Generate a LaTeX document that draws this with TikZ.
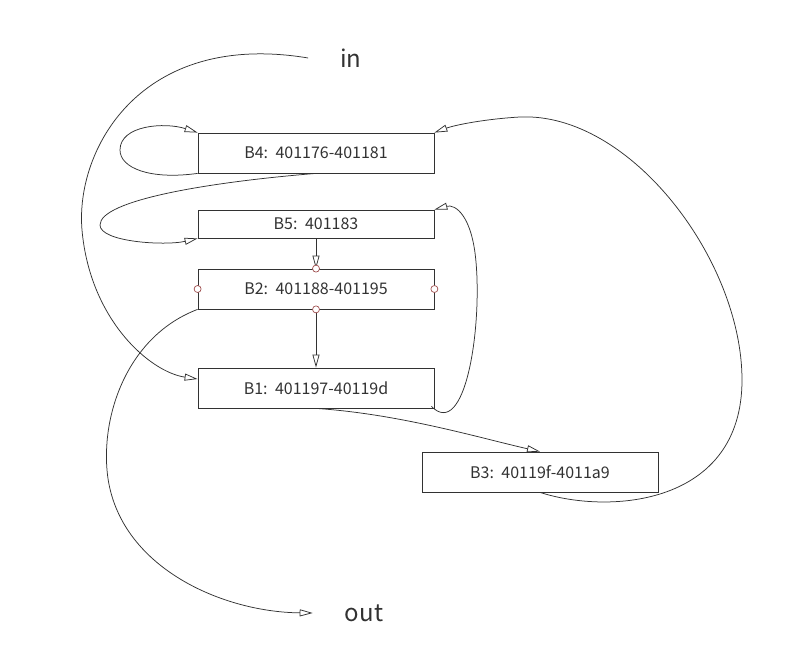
\documentclass[tikz,border=0pt]{standalone}
\usepackage{fontspec}
\setmainfont{Noto Sans CJK SC}
\usetikzlibrary{arrows.meta}

\definecolor{edgegray}{RGB}{50,50,50}
\definecolor{portred}{RGB}{160,80,80}

\tikzset{
    block/.style={draw=edgegray, line width=0.8pt, minimum width=236pt, minimum height=40pt,
        inner sep=0pt, font=\fontsize{16}{19}\selectfont, text=edgegray},
    term/.style={inner xsep=32pt, inner ysep=2pt, font=\fontsize{24}{28}\selectfont, text=edgegray},
    flow/.style={draw=edgegray, line width=0.75pt, -{Triangle[open, length=13pt, width=7pt]}},
    port/.style={circle, draw=portred, fill=white, line width=0.7pt, minimum size=7pt, inner sep=0pt}
}

\begin{document}
\begin{tikzpicture}[x=1pt, y=-1pt]
        \useasboundingbox (0,0) rectangle (800,653);

        % entry and exit
        \node[term] (in) at (351,58) {in};
        \node[term] (out) at (364,613) {out};

        % basic blocks
        \node[block] (bfour) at (316,153) {B4:\, 401176-401181};
        \node[block, minimum height=28pt] (bfive) at (316,224) {B5:\, 401183};
        \node[block] (btwo) at (316,289) {B2:\, 401188-401195};
        \node[block] (bone) at (316,388) {B1:\, 401197-40119d};
        \node[block] (bthree) at (540,472) {B3:\, 40119f-4011a9};

        % edges
        \draw[flow] (in.west) .. controls (140,30) and (75,150) .. (82,230)
            .. controls (90,320) and (150,372) .. ([yshift=9pt]bone.west);
        \draw[flow] (bfour.south west) .. controls (150,180) and (120,168) .. (120,150)
            .. controls (120,125) and (165,122) .. (bfour.north west);
        \draw[flow] (bfour.south) .. controls (210,182) and (100,200) .. (100,225)
            .. controls (100,242) and (165,246) .. (bfive.south west);
        \draw[flow] (bfive.south) -- (btwo.north);
        \draw[flow] (btwo.south) -- (bone.north);
        \draw[flow] ([xshift=-3pt,yshift=2pt]bone.south east) .. controls (465,440) and (482,330) .. (476,262)
            .. controls (472,215) and (455,204) .. (bfive.north east);
        \draw[flow] (bone.south) .. controls (400,414) and (480,438) .. (bthree.north);
        \draw[flow] (bthree.south) .. controls (610,515) and (742,505) .. (742,380)
            .. controls (742,260) and (630,112) .. (520,117)
            .. controls (485,119) and (455,125) .. (bfour.north east);
        \draw[flow] (btwo.south west) .. controls (130,335) and (102,410) .. (107,470)
            .. controls (115,565) and (220,612) .. (out.west);

        % ports of B2
        \foreach \a in {north, south, east, west}
            \node[port] at (btwo.\a) {};
\end{tikzpicture}
\end{document}
